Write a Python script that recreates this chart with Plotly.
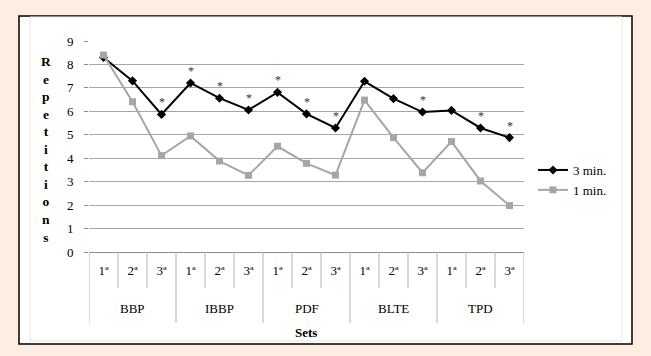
import plotly.graph_objects as go

groups = ["BBP", "IBBP", "PDF", "BLTE", "TPD"]
sets = ["1ª", "2ª", "3ª"]
three_min = [8.3, 7.3, 5.87, 7.21, 6.56, 6.06, 6.81, 5.89, 5.29, 7.28, 6.54, 5.97, 6.04, 5.29, 4.88]
one_min = [8.4, 6.41, 4.11, 4.95, 3.88, 3.27, 4.51, 3.78, 3.28, 6.48, 4.88, 3.38, 4.71, 3.03, 1.98]
significant = [False, False, True, True, True, True, True, True, True, False, False, True, False, True, True]
y_ticks = [0, 1, 2, 3, 4, 5, 6, 7, 8, 9]

W, H = 651, 356
L, R, T, B = 89, 524, 41, 252
pw, ph = R - L, B - T


def px(x):
    return (x - L) / pw


def py(y):
    return (B - y) / ph


n = len(groups) * len(sets)
xs = list(range(n))
tick_text = [sets[i % len(sets)] for i in xs]
FONT = "Liberation Serif, Times New Roman, serif"

fig = go.Figure()
fig.add_trace(go.Scatter(
    x=xs, y=three_min, mode="lines+markers", name="3 min.",
    line=dict(color="black", width=2),
    marker=dict(symbol="diamond", size=7, color="black"),
))
fig.add_trace(go.Scatter(
    x=xs, y=one_min, mode="lines+markers", name="1 min.",
    line=dict(color="#a6a6a6", width=2),
    marker=dict(symbol="square", size=7, color="#a6a6a6"),
))

shapes = [
    dict(type="rect", xref="paper", yref="paper", x0=px(19), x1=px(632), y0=py(344), y1=py(16),
         line=dict(color="black", width=1.5), fillcolor="white", layer="below"),
    dict(type="rect", xref="paper", yref="paper", x0=px(30), x1=px(622), y0=py(341), y1=py(17),
         line=dict(color="#e6e6dc", width=1), fillcolor="white", layer="below"),
]
for k in range(n + 1):
    major = (k % len(sets) == 0)
    shapes.append(dict(
        type="line", xref="x", yref="paper", x0=k - 0.5, x1=k - 0.5,
        y0=0, y1=py(323) if major else py(288),
        line=dict(color="#b4b4b4", width=1),
    ))

annotations = []
for gi, g in enumerate(groups):
    annotations.append(dict(
        x=gi * len(sets) + (len(sets) - 1) / 2, y=py(308), xref="x", yref="paper",
        xanchor="center", yanchor="middle",
        text=g, showarrow=False, font=dict(family=FONT, size=13, color="black"),
    ))
for i in xs:
    if significant[i]:
        annotations.append(dict(
            x=i, y=three_min[i], xref="x", yref="y", text="*", showarrow=False,
            xanchor="center", yanchor="middle",
            yshift=12, font=dict(family=FONT, size=12, color="#333333"),
        ))
annotations.append(dict(
    x=px(306), y=py(332), xref="paper", yref="paper", text="<b>Sets</b>", showarrow=False,
    xanchor="center", yanchor="middle",
    font=dict(family=FONT, size=13, color="black"),
))
annotations.append(dict(
    x=px(46), y=py(149), xref="paper", yref="paper",
    xanchor="center", yanchor="middle",
    text="<b>" + "<br>".join(list("Repetitions")) + "</b>", showarrow=False,
    font=dict(family=FONT, size=13.5, color="black"), align="center",
))

fig.update_layout(
    width=W, height=H,
    margin=dict(l=L, r=W - R, t=T, b=H - B, autoexpand=False),
    paper_bgcolor="#fdeee4",
    plot_bgcolor="white",
    showlegend=True,
    legend=dict(x=px(533), y=py(180), xanchor="left", yanchor="middle",
                font=dict(family=FONT, size=13, color="black"),
                bgcolor="rgba(0,0,0,0)", itemwidth=30, tracegroupgap=4),
    shapes=shapes,
    annotations=annotations,
    font=dict(family=FONT, color="black"),
)
fig.update_xaxes(
    range=[-0.5, n - 0.5], tickvals=xs, ticktext=tick_text,
    showgrid=False, zeroline=False, showline=True, linecolor="#8c8c8c", linewidth=1,
    ticks="outside", ticklen=6, tickcolor="rgba(0,0,0,0)",
    tickfont=dict(family=FONT, size=13, color="black"),
)
fig.update_yaxes(
    range=[0, 9], tickvals=y_ticks, showgrid=True, gridcolor="#a6a6a6", gridwidth=1,
    zeroline=False, showline=False, ticks="outside", ticklen=4, tickcolor="#8c8c8c",
    ticklabelstandoff=8,
    tickfont=dict(family=FONT, size=13, color="black"),
)

fig.write_html(
    "out.html",
    config={"displayModeBar": False},
    post_script="document.body.style.margin='0';document.body.style.background='#fdeee4';",
)
